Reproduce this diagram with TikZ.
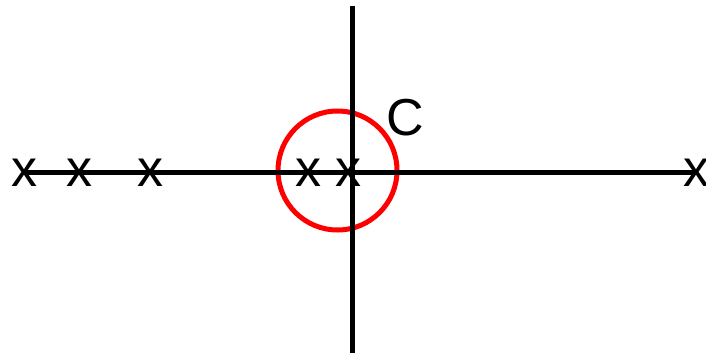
\documentclass[tikz,border=0pt]{standalone}
\usepackage{fontspec}
\setmainfont{Liberation Sans}
\usetikzlibrary{positioning}
\tikzset{
  axis/.style={black,line width=5pt},
  contour/.style={red,line width=5pt},
  pole/.style={inner sep=0pt,anchor=base,font=\fontsize{52}{60}\selectfont},
  lbl/.style={inner sep=0pt,anchor=base,font=\fontsize{52}{60}\selectfont},
}
\begin{document}
\begin{tikzpicture}[x=1pt,y=-1pt]
\useasboundingbox (0,0) rectangle (706,353);
% axes end points
\coordinate (re-l) at (24,172);
\coordinate (re-r) at (696,172);
\coordinate (im-t) at (352,6);
\coordinate (im-b) at (352,353);
% contour
\draw[contour] (337.5,170.5) circle (59.5);
\draw[axis] (re-l) -- (re-r);
\draw[axis] (im-t) -- (im-b);
% poles
\node[pole] (p1) at (24,186) {x};
\node[pole] (p2) at (79,186) {x};
\node[pole] (p3) at (150,186) {x};
\node[pole] (p4) at (308.5,186) {x};
\node[pole] (p5) at (348.5,186) {x};
\node[pole] (p6) at (696,186) {x};
\node[lbl] (c) at (405,135) {C};
\end{tikzpicture}
\end{document}
